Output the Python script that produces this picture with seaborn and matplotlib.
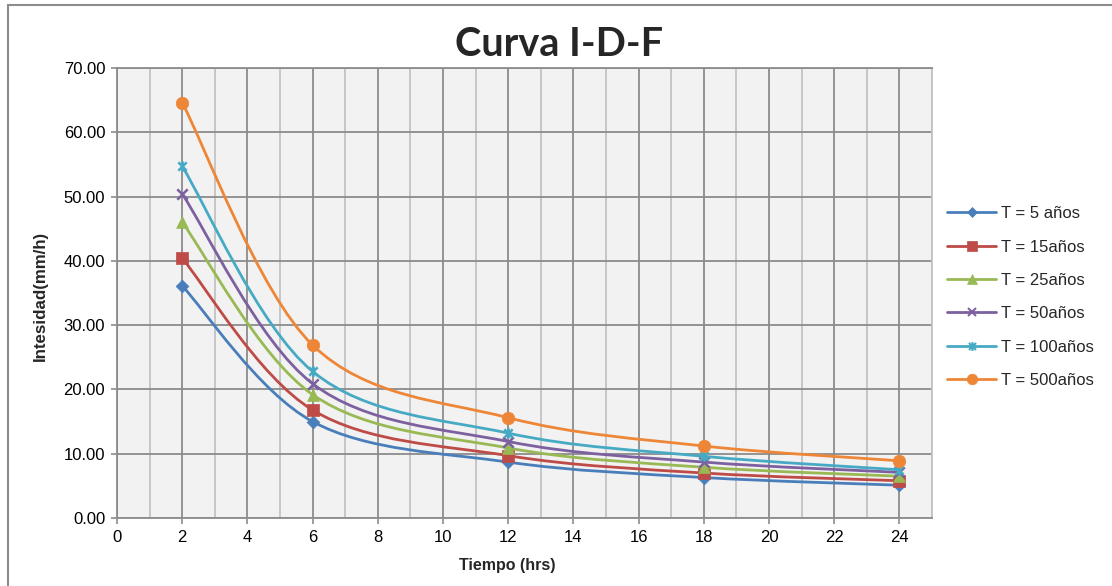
import numpy as np
import pandas as pd
import seaborn as sns
import matplotlib
matplotlib.use("Agg")
import matplotlib.pyplot as plt
from matplotlib.path import Path
from matplotlib.patches import PathPatch, Rectangle
from matplotlib.lines import Line2D
from matplotlib.ticker import MultipleLocator, FormatStrFormatter

# Duration (hours) and rainfall intensity (mm/h) for each return period
tiempo = [2, 6, 12, 18, 24]
t5 = [36.1, 15.0, 8.7, 6.3, 5.1]
t15 = [40.4, 16.8, 9.7, 7.0, 5.8]
t25 = [46.0, 19.2, 10.9, 7.9, 6.5]
t50 = [50.4, 20.9, 11.9, 8.7, 7.1]
t100 = [54.7, 22.8, 13.2, 9.6, 7.5]
t500 = [64.6, 26.9, 15.6, 11.2, 8.9]

series_labels = ["T = 5 años", "T = 15años", "T = 25años",
                 "T = 50años", "T = 100años", "T = 500años"]
series_values = [t5, t15, t25, t50, t100, t500]

colors = ["#4A7EBB", "#BE4B48", "#98B954", "#7D60A0", "#46AAC5", "#EE8637"]

# x with a vertical bar ("star" marker)
star_path = Path(
    [(-1, -1), (1, 1), (-1, 1), (1, -1), (0, -1.25), (0, 1.25)],
    [Path.MOVETO, Path.LINETO, Path.MOVETO, Path.LINETO, Path.MOVETO, Path.LINETO],
)
markers = ["D", "s", "^", "x", star_path, "o"]
msizes = [6.5, 8.0, 8.5, 7.5, 7.5, 9.0]
filled = [True, True, True, False, False, True]

df = pd.DataFrame(
    [(lab, x, y) for lab, vals in zip(series_labels, series_values)
     for x, y in zip(tiempo, vals)],
    columns=["Serie", "Tiempo", "Intensidad"],
)


def smooth_path(xs, ys):
    """Cubic Bezier path through the points (Catmull-Rom style smoothing)."""
    pts = np.column_stack([xs, ys]).astype(float)
    n = len(pts)
    verts = [tuple(pts[0])]
    codes = [Path.MOVETO]
    for i in range(n - 1):
        p0 = pts[i - 1] if i > 0 else pts[i]
        p1 = pts[i]
        p2 = pts[i + 1]
        p3 = pts[i + 2] if i + 2 < n else pts[i + 1]
        c1 = p1 + (p2 - p0) / 6.0
        c2 = p2 - (p3 - p1) / 6.0
        verts += [tuple(c1), tuple(c2), tuple(p2)]
        codes += [Path.CURVE4] * 3
    return Path(verts, codes)


sns.set_theme(style="white")
plt.rcParams["font.family"] = ["Liberation Sans", "DejaVu Sans"]

fig = plt.figure(figsize=(11.12, 5.86), dpi=100)
ax = fig.add_axes([0.1052, 0.116, 0.7330, 0.768])
ax.set_facecolor("#F2F2F2")

ax.set_xlim(0, 25)
ax.set_ylim(0, 70)
ax.xaxis.set_major_locator(MultipleLocator(2))
ax.xaxis.set_minor_locator(MultipleLocator(1))
ax.yaxis.set_major_locator(MultipleLocator(10))
ax.yaxis.set_major_formatter(FormatStrFormatter("%.2f"))

ax.grid(which="major", axis="both", color="#8C8C8C", linewidth=1.3, zorder=0)
ax.grid(which="minor", axis="x", color="#C3C3C3", linewidth=1.3, zorder=0)
ax.set_axisbelow(True)

for s in ["left", "bottom", "top"]:
    ax.spines[s].set_color("#8C8C8C")
    ax.spines[s].set_linewidth(1.3)
ax.spines["right"].set_color("#C3C3C3")
ax.spines["right"].set_linewidth(1.3)

ax.tick_params(axis="both", which="major", direction="out", length=4.5, width=1.2,
               color="#8C8C8C", labelsize=12, labelcolor="#000000", pad=4)
ax.tick_params(axis="x", which="minor", length=0)
ax.tick_params(axis="y", which="major", left=True)
ax.tick_params(axis="x", which="major", bottom=True)

legend_handles = []
for i, (lab, col, mk, ms, fl) in enumerate(zip(series_labels, colors, markers, msizes, filled)):
    sub = df[df["Serie"] == lab]
    patch = PathPatch(smooth_path(sub["Tiempo"].values, sub["Intensidad"].values),
                      facecolor="none", edgecolor=col, linewidth=2.0,
                      capstyle="round", joinstyle="round", zorder=3 + 2 * i)
    ax.add_patch(patch)
    sns.scatterplot(data=sub, x="Tiempo", y="Intensidad", marker=mk, color=col,
                    s=ms ** 2, edgecolor=col, linewidth=0.5 if fl else 1.8, ax=ax,
                    zorder=4 + 2 * i, legend=False)
    legend_handles.append(Line2D([0], [0], color=col, linewidth=2.0, marker=mk,
                                 markersize=ms * 0.85, markerfacecolor=col,
                                 markeredgecolor=col, markeredgewidth=1.5 if not fl else 0.5))

ax.set_xlabel("Tiempo (hrs)", fontsize=11.5, fontweight="bold")
ax.set_ylabel("Intesidad(mm/h)", fontsize=12.2, fontweight="bold")
ax.xaxis.set_label_coords(0.479, -0.089)
ax.yaxis.set_label_coords(-0.0847, 0.493)

fig.text(0.503, 0.924, "Curva I-D-F", ha="center", va="center",
         fontsize=28.5, fontweight="bold", family=["Lato", "DejaVu Sans"])

fig.legend(handles=legend_handles, labels=series_labels, loc="center left",
           bbox_to_anchor=(0.846, 0.493), frameon=False, fontsize=12,
           handlelength=2.9, handletextpad=0.3, labelspacing=1.1, borderaxespad=0)

# Chart-area border
fig.add_artist(Rectangle((8 / 1112, -0.05), 1.2, 1.05 - 5 / 586,
                         transform=fig.transFigure, fill=False,
                         edgecolor="#8C8C8C", linewidth=1.5))

fig.savefig("out.png", dpi=100, facecolor="white")
